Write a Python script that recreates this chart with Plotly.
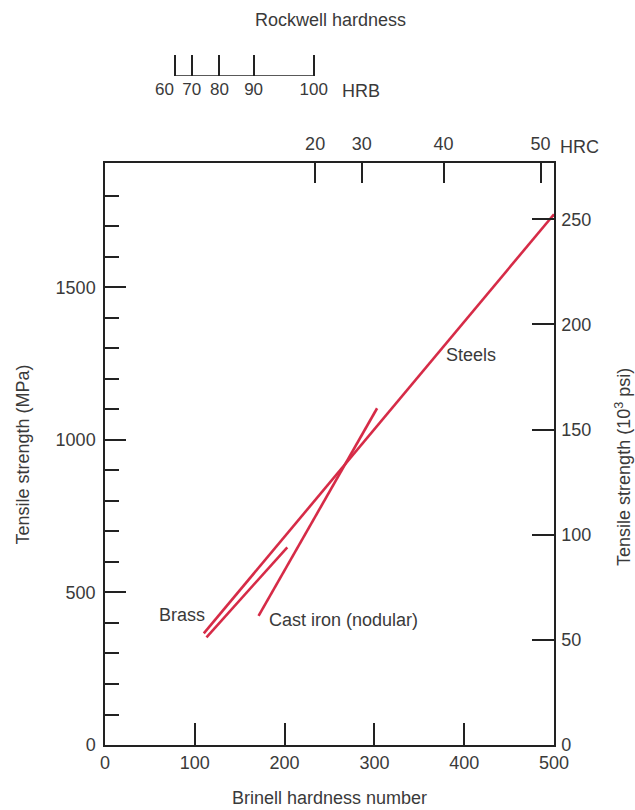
import plotly.graph_objects as go

# ---- data ----
steels_bhn = [110, 500]
steels_mpa = [366, 1740]
brass_bhn = [113, 203]
brass_mpa = [353, 648]
castiron_bhn = [171, 303]
castiron_mpa = [423, 1104]

bhn_ticks = [0, 100, 200, 300, 400, 500]
mpa_major = [0, 500, 1000, 1500]
mpa_minor = [100, 200, 300, 400, 600, 700, 800, 900,
             1100, 1200, 1300, 1400, 1600, 1700, 1800]
ksi_ticks = [0, 50, 100, 150, 200, 250]

hrc_values = [20, 30, 40, 50]
hrc_bhn = [234, 286, 377, 485]          # Brinell equivalents of the HRC ticks
hrb_values = [60, 70, 80, 90, 100]
hrb_bhn = [77.5, 96.5, 127.5, 165.5, 232.5]  # Brinell equivalents of the HRB ticks

MPA_PER_KSI = 6.895
Y_MAX = 1908
X_MAX = 500

RED = "#d62b47"
TXT = "#3a3a3a"
AX = "#222222"
FONT = "Liberation Sans"
FS = 18
FS_HRB = 17

W, H = 635, 810
M_L, M_R, M_T, M_B = 104.5, 81, 20, 65
paper_h = H - M_T - M_B
plot_top_px = 163
hrb_line_px = 76
main_top = (H - M_B - plot_top_px) / paper_h
hrb_bottom = (H - M_B - hrb_line_px) / paper_h

fig = go.Figure()
for name, xs, ys in [("Steels", steels_bhn, steels_mpa),
                     ("Brass", brass_bhn, brass_mpa),
                     ("Cast iron (nodular)", castiron_bhn, castiron_mpa)]:
    fig.add_trace(go.Scatter(x=xs, y=ys, mode="lines", name=name,
                             line=dict(color=RED, width=2.6),
                             xaxis="x", yaxis="y", showlegend=False,
                             hoverinfo="skip"))

# invisible traces to activate the extra axes
fig.add_trace(go.Scatter(x=[None], y=[None], xaxis="x", yaxis="y2", showlegend=False))
fig.add_trace(go.Scatter(x=[None], y=[None], xaxis="x2", yaxis="y", showlegend=False))
fig.add_trace(go.Scatter(x=[None], y=[None], xaxis="x3", yaxis="y3", showlegend=False))

tickfont = dict(family=FONT, size=FS, color=TXT)

# first HRB label is set a little left of its tick (as in the reference)
hrb_text = [""] + [str(v) for v in hrb_values[1:]]
hrb_pad = 5
hrb_lo, hrb_hi = hrb_bhn[0] - hrb_pad, hrb_bhn[-1] + hrb_pad

fig.update_layout(
    width=W, height=H,
    margin=dict(l=M_L, r=M_R, t=M_T, b=M_B, pad=0),
    paper_bgcolor="white", plot_bgcolor="white",
    font=dict(family=FONT, size=FS, color=TXT),
    xaxis=dict(range=[0, X_MAX], domain=[0, 1], anchor="y",
               tickvals=bhn_ticks, ticks="inside", ticklen=22, tickwidth=1.5,
               tickcolor=AX, showline=True, linecolor=AX, linewidth=1.5,
               showgrid=False, zeroline=False, tickfont=tickfont,
               ticklabelstandoff=1),
    yaxis=dict(range=[0, Y_MAX], domain=[0, main_top], anchor="x",
               tickvals=mpa_major, ticks="inside", ticklen=21, tickwidth=1.5,
               tickcolor=AX, showline=True, linecolor=AX, linewidth=1.5,
               showgrid=False, zeroline=False, tickfont=tickfont,
               ticklabelstandoff=4,
               minor=dict(tickvals=mpa_minor, ticks="inside", ticklen=14,
                          tickwidth=1.5, tickcolor=AX, showgrid=False)),
    yaxis2=dict(range=[0, Y_MAX / MPA_PER_KSI], overlaying="y", side="right",
                anchor="x", tickvals=ksi_ticks, ticks="inside", ticklen=22,
                tickwidth=1.5, tickcolor=AX, showline=True, linecolor=AX,
                linewidth=1.5, showgrid=False, zeroline=False,
                tickfont=tickfont, ticklabelstandoff=2),
    xaxis2=dict(range=[0, X_MAX], overlaying="x", side="top", anchor="y",
                tickvals=hrc_bhn, ticktext=[str(v) for v in hrc_values],
                ticks="inside", ticklen=20, tickwidth=1.5, tickcolor=AX,
                showline=True, linecolor=AX, linewidth=1.5, showgrid=False,
                zeroline=False, tickfont=tickfont, ticklabelstandoff=4),
    xaxis3=dict(range=[hrb_lo, hrb_hi],
                domain=[hrb_lo / X_MAX, hrb_hi / X_MAX],
                anchor="y3", side="bottom", tickangle=0,
                tickvals=hrb_bhn, ticktext=hrb_text,
                ticks="inside", ticklen=21, tickwidth=1.5, tickcolor=AX,
                showline=False, showgrid=False,
                zeroline=False, tickfont=dict(family=FONT, size=FS_HRB, color=TXT),
                ticklabelstandoff=1),
    yaxis3=dict(domain=[hrb_bottom, min(1, hrb_bottom + 0.05)], anchor="x3",
                visible=False, range=[0, 1]),
)

# HRB scale baseline, from the first to the last HRB tick
fig.add_shape(type="line", xref="x3", yref="y3", x0=hrb_bhn[0], x1=hrb_bhn[-1],
              y0=0, y1=0, line=dict(color=AX, width=1.5))

def px_x(px):
    return (px - M_L) / (W - M_L - M_R)

def px_y(py):
    return (H - M_B - py) / paper_h

fig.add_annotation(text=str(hrb_values[0]), x=hrb_bhn[0], xref="x3",
                   y=px_y(89), yref="paper", xshift=-10, showarrow=False,
                   xanchor="center", yanchor="middle",
                   font=dict(family=FONT, size=FS_HRB, color=TXT))

annos = [
    dict(text="Brass", x=86, y=426, xref="x", yref="y"),
    dict(text="Cast iron (nodular)", x=266, y=410, xref="x", yref="y"),
    dict(text="Steels", x=408, y=1279, xref="x", yref="y"),
    dict(text="Rockwell hardness", x=px_x(330), y=px_y(20), xref="paper", yref="paper"),
    dict(text="HRB", x=px_x(361), y=px_y(91), xref="paper", yref="paper"),
    dict(text="HRC", x=px_x(580), y=px_y(147), xref="paper", yref="paper"),
    dict(text="Brinell hardness number", x=px_x(329), y=px_y(798), xref="paper", yref="paper"),
    dict(text="Tensile strength (MPa)", x=px_x(22), y=px_y(455), xref="paper", yref="paper",
         textangle=-90),
    dict(text="Tensile strength (10<sup>3</sup> psi)", x=px_x(623), y=px_y(467),
         xref="paper", yref="paper", textangle=-90),
]
for a in annos:
    fig.add_annotation(showarrow=False, xanchor="center", yanchor="middle",
                       font=dict(family=FONT, size=FS, color=TXT), **a)

fig.write_html("out.html", config={"displayModeBar": False},
               post_script="document.body.style.margin='0';")
